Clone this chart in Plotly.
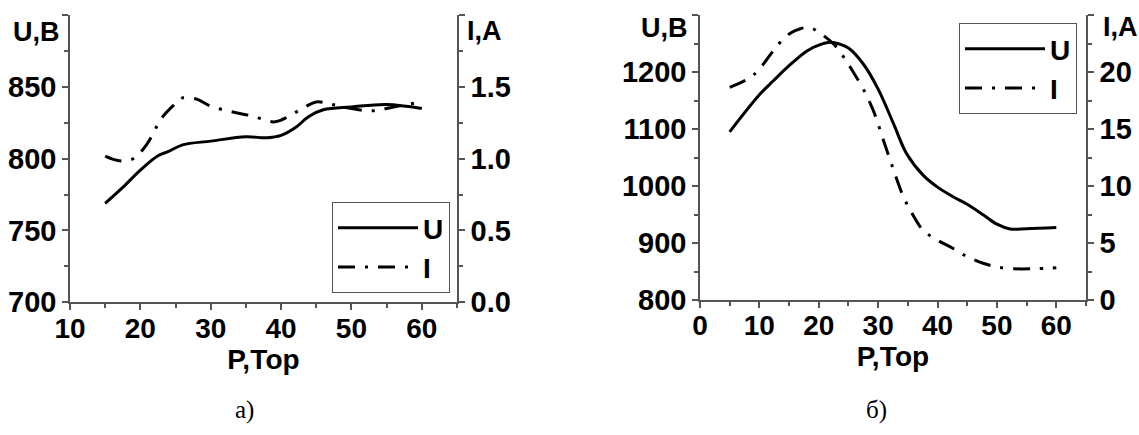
import plotly.graph_objects as go

# ---- panel a) data ----
pa_U = [15, 17.5, 20, 22.5, 24, 26, 30, 35, 38, 40, 42, 44, 46, 50, 55, 60]
ua_U = [768.9, 780, 792, 802, 805, 809.6, 812.2, 815.2, 814.5, 816.2, 821.5, 829.5, 834, 836, 837.7, 834.9]
pa_I = [15, 17, 19, 21, 23, 25, 26, 28, 30, 33, 36, 39, 41, 43, 45, 47, 50, 53, 56, 60]
ia_I = [1.017, 0.985, 1.0, 1.106, 1.28, 1.384, 1.423, 1.414, 1.365, 1.326, 1.296, 1.256, 1.292,
        1.349, 1.395, 1.38, 1.349, 1.333, 1.36, 1.395]

# ---- panel б) data ----
pb_U = [5, 10, 12.4, 15, 18, 20, 21.9, 23.6, 25, 27.5, 30, 32.6, 34.8, 37.6, 40, 42.7, 45,
        47.8, 50, 52.2, 55, 60]
ub_U = [1095, 1160, 1185, 1211, 1237, 1247, 1252, 1248.6, 1242, 1214, 1170, 1109, 1056.6,
        1018.6, 998, 980.7, 968, 948.7, 933, 924.7, 925, 927]
pb_I = [5, 8.4, 10, 12.4, 13.5, 15.2, 16.9, 18.5, 20.5, 22.5, 24.2, 25.8, 27.5, 29.2, 30.9,
        32.6, 34.3, 35.7, 37.6, 40, 42.7, 45, 47.8, 50, 52.8, 56.2, 60]
ib_I = [18.65, 19.5, 20.26, 21.9, 22.6, 23.4, 23.8, 23.9, 23.3, 22.45, 21.3, 20.0, 18.5, 16.6,
        14.0, 11.4, 9.0, 7.6, 6.1, 5.25, 4.5, 3.8, 3.2, 2.9, 2.74, 2.74, 2.83]

W, H = 1139, 435
FONT = "Liberation Sans, Arial, sans-serif"
AX = "#555555"
DASH = "17px,10px,3px,10px"

def px(x):
    return x / W

def py(y):
    return (H - y) / H

fig = go.Figure()
fig.add_trace(go.Scatter(x=pa_U, y=ua_U, name="U", mode="lines", line=dict(color="black", width=3, shape="spline"),
                         xaxis="x", yaxis="y", legend="legend"))
fig.add_trace(go.Scatter(x=pa_I, y=ia_I, name="I", mode="lines",
                         line=dict(color="black", width=3, shape="spline", dash=DASH),
                         xaxis="x", yaxis="y2", legend="legend"))
fig.add_trace(go.Scatter(x=pb_U, y=ub_U, name="U", mode="lines", line=dict(color="black", width=3, shape="spline"),
                         xaxis="x2", yaxis="y3", legend="legend2"))
fig.add_trace(go.Scatter(x=pb_I, y=ib_I, name="I", mode="lines",
                         line=dict(color="black", width=3, shape="spline", dash=DASH),
                         xaxis="x2", yaxis="y4", legend="legend2"))

xfont = dict(family=FONT, size=28, color="black", weight="bold")
yfont = dict(family=FONT, size=29, color="black", weight="bold")

def axis_common(font):
    return dict(showline=True, linecolor=AX, linewidth=1.5, ticks="outside", ticklen=6, tickwidth=1.5,
                tickcolor=AX, showgrid=False, zeroline=False, tickfont=font, automargin=False,
                minor=dict(ticks="outside", ticklen=4, tickwidth=1.5, tickcolor=AX, showgrid=False))

xa = axis_common(xfont)
xa.update(domain=[px(70), px(457)], range=[10, 65], tick0=10, dtick=10, anchor="y", ticklabelstandoff=-6,
          title=dict(text="P,Тор", font=xfont, standoff=0))
xa["minor"].update(dtick=5, tick0=10)
ya = axis_common(yfont)
ya.update(domain=[py(302.3), py(15)], range=[700, 900], tick0=700, dtick=50, anchor="x")
ya["minor"].update(dtick=25, tick0=700)
ya2 = axis_common(yfont)
ya2.update(overlaying="y", side="right", anchor="x", range=[0, 2.0], tick0=0, dtick=0.5, tickformat=".1f")
ya2["minor"].update(dtick=0.25, tick0=0)

xb = axis_common(xfont)
xb.update(domain=[px(700), px(1086)], range=[0, 65], tick0=0, dtick=10, anchor="y3", ticklabelstandoff=-6,
          title=dict(text="P,Тор", font=xfont, standoff=0))
xb["minor"].update(dtick=5, tick0=0)
yb = axis_common(yfont)
yb.update(domain=[py(300), py(15)], range=[800, 1300], tick0=800, dtick=100, anchor="x2")
yb["minor"].update(dtick=50, tick0=800)
yb2 = axis_common(yfont)
yb2.update(overlaying="y3", side="right", anchor="x2", range=[0, 25], tick0=0, dtick=5)
yb2["minor"].update(dtick=2.5, tick0=0)

legfont = dict(family=FONT, size=28, color="black", weight="bold")
fig.update_layout(
    template="none",
    width=W, height=H, margin=dict(l=0, r=0, t=0, b=0, autoexpand=False),
    paper_bgcolor="white", plot_bgcolor="white", showlegend=True,
    xaxis=xa, yaxis=ya, yaxis2=ya2, xaxis2=xb, yaxis3=yb, yaxis4=yb2,
    legend=dict(x=px(332), y=py(202), xanchor="left", yanchor="top", font=legfont, itemwidth=80,
                bgcolor="white", bordercolor=AX, borderwidth=1),
    legend2=dict(x=px(959), y=py(23), xanchor="left", yanchor="top", font=legfont, itemwidth=80,
                 bgcolor="white", bordercolor=AX, borderwidth=1),
)

ann = [
    ("U,В", 62, 32, "right"),
    ("I,А", 465, 31, "left"),
    ("U,В", 690, 28, "right"),
    ("I,А", 1101, 27, "left"),
]
for t, x, y, xa_ in ann:
    fig.add_annotation(text=t, x=px(x), y=py(y), xref="paper", yref="paper", xanchor=xa_, yanchor="middle",
                       showarrow=False, font=dict(family=FONT, size=27, color="black", weight="bold"))
for t, x in [("а)", 244), ("б)", 876)]:
    fig.add_annotation(text=t, x=px(x), y=py(410), xref="paper", yref="paper", xanchor="center",
                       yanchor="middle", showarrow=False,
                       font=dict(family="Liberation Serif, Times New Roman, serif", size=25, color="black"))

fig.write_html("out.html", config={"displayModeBar": False},
               post_script="document.body.style.margin='0';document.body.style.overflow='hidden';")
